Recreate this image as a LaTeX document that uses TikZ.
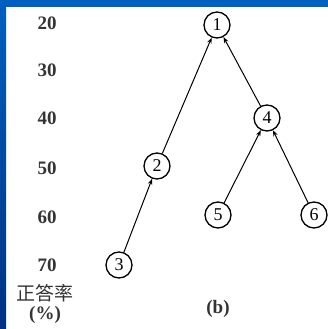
\documentclass[tikz,border=0pt]{standalone}
\usepackage{fontspec}
\setmainfont{Liberation Serif}
\newfontfamily\cjk{Noto Sans CJK SC}
\usetikzlibrary{arrows.meta}
\definecolor{slideblue}{RGB}{0,96,192}
\definecolor{slidedark}{RGB}{0,50,130}
\begin{document}
\begin{tikzpicture}[x=1pt,y=-1pt,
  nd/.style={circle,draw,line width=1.3pt,minimum size=26pt,inner sep=0pt,font=\fontsize{18}{18}\selectfont},
  lab/.style={font=\fontsize{19}{19}\selectfont\bfseries,text=black!80},
  edge/.style={line width=1pt,-{Stealth[length=6pt,width=4.5pt]}}]
\useasboundingbox (0,0) rectangle (328,329);
\fill[white] (0,0) rectangle (328,329);
\shade[top color=slideblue,bottom color=slidedark] (0,0) rectangle (6,329);
\fill[slideblue] (0,0) rectangle (328,7);
% axis labels
\node[lab] (l20) at (47,23) {20};
\node[lab] (l30) at (47,70) {30};
\node[lab] (l40) at (47,118) {40};
\node[lab] (l50) at (47,168) {50};
\node[lab] (l60) at (47,217) {60};
\node[lab] (l70) at (47,265) {70};
\node[font=\fontsize{19}{19}\selectfont\cjk,text=black!80] (ylab) at (45,293) {正答率};
\node[lab] (pct) at (45,315) {(\%)};
% nodes
\node[nd] (n1) at (217,25) {1};
\node[nd] (n4) at (267,118) {4};
\node[nd] (n2) at (157,166) {2};
\node[nd] (n5) at (218,215) {5};
\node[nd] (n6) at (314,215) {6};
\node[nd] (n3) at (119,265) {3};
\node[lab] (cap) at (218,309) {(b)};
% edges
\draw[edge] (n3) -- (n2);
\draw[edge] (n2) -- (n1);
\draw[edge] (n4) -- (n1);
\draw[edge] (n5) -- (n4);
\draw[edge] (n6) -- (n4);
\end{tikzpicture}
\end{document}
